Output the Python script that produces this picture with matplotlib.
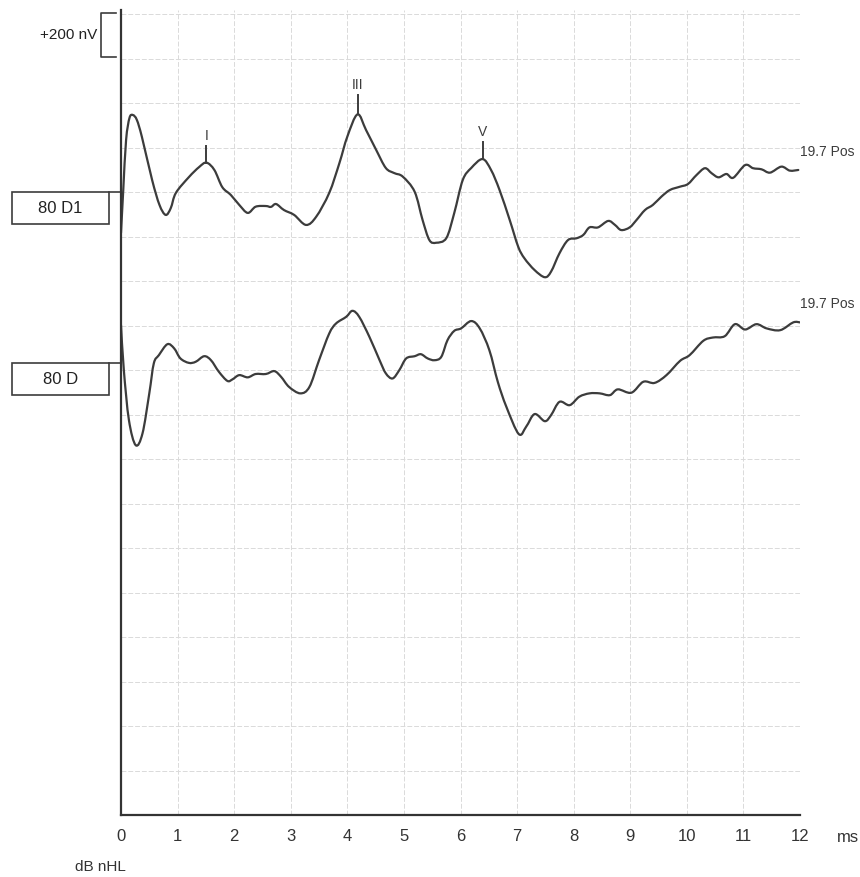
import numpy as np
import matplotlib.pyplot as plt
from matplotlib.patches import Rectangle, PathPatch
from matplotlib.path import Path

plt.rcParams["font.family"] = ["Liberation Sans", "DejaVu Sans"]
plt.rcParams["font.size"] = 11

# ABR waveforms, latency (ms) and amplitude (nV) relative to each trace's baseline
t_d1 = [0.00, 0.04, 0.09, 0.15, 0.21, 0.28, 0.37, 0.55, 0.68, 0.79, 0.88, 0.97,
        1.20, 1.38, 1.51, 1.65, 1.79, 1.94, 2.09, 2.24, 2.38, 2.56, 2.65, 2.74,
        2.88, 3.06, 3.27, 3.45, 3.68, 3.86, 4.00, 4.18, 4.33, 4.51, 4.68, 4.83,
        4.98, 5.19, 5.33, 5.45, 5.57, 5.75, 5.89, 6.04, 6.19, 6.39, 6.54, 6.69,
        6.87, 7.02, 7.13, 7.31, 7.49, 7.60, 7.75, 7.90, 8.05, 8.17, 8.28, 8.43,
        8.61, 8.73, 8.84, 8.99, 9.11, 9.26, 9.40, 9.55, 9.70, 9.88, 10.02, 10.17,
        10.32, 10.44, 10.56, 10.70, 10.82, 11.03, 11.17, 11.32, 11.47, 11.67,
        11.82, 11.97]
amp_d1 = [-184, 9, 234, 333, 346, 324, 247, 54, -58, -103, -72, -4,
          67, 112, 132, 99, 22, -13, -58, -94, -66, -63, -67, -54,
          -81, -103, -148, -111, -4, 130, 249, 349, 279, 189, 108, 85,
          69, 1, -126, -216, -228, -207, -94, 54, 108, 148, 99, 9,
          -126, -246, -298, -351, -383, -358, -275, -216, -208, -193, -159, -159,
          -130, -148, -171, -159, -126, -81, -58, -21, 9, 24, 36, 76,
          107, 84, 66, 81, 64, 121, 107, 102, 87, 114,
          96, 99]

t_d = [0.00, 0.05, 0.14, 0.26, 0.38, 0.50, 0.58, 0.67, 0.82, 0.94, 1.05, 1.20,
       1.32, 1.47, 1.59, 1.73, 1.88, 1.97, 2.09, 2.24, 2.38, 2.56, 2.71, 2.83,
       2.97, 3.17, 3.33, 3.50, 3.68, 3.80, 3.98, 4.09, 4.21, 4.39, 4.57, 4.68,
       4.80, 4.92, 5.04, 5.19, 5.30, 5.42, 5.54, 5.66, 5.77, 5.89, 6.01, 6.19,
       6.34, 6.51, 6.66, 6.81, 7.03, 7.16, 7.31, 7.49, 7.60, 7.75, 7.93, 8.10,
       8.28, 8.46, 8.64, 8.78, 9.02, 9.23, 9.43, 9.64, 9.88, 10.05, 10.29, 10.46,
       10.67, 10.85, 11.03, 11.23, 11.41, 11.65, 11.88, 12.00]
amp_d = [171, -31, -256, -369, -316, -136, -1, 36, 85, 66, 21, 1,
         6, 31, 13, -39, -80, -73, -54, -64, -49, -49, -36, -62,
         -107, -136, -107, 13, 133, 178, 208, 235, 208, 118, 13, -46,
         -69, -31, 21, 31, 40, 21, 13, 28, 103, 145, 156, 189,
         156, 58, -85, -196, -319, -286, -229, -261, -234, -174, -189, -151,
         -136, -136, -144, -118, -133, -84, -89, -54, 10, 36, 100, 115,
         121, 175, 151, 175, 156, 148, 183, 183]

trace_names = ["80 D1", "80 D"]
end_labels = ["19.7 Pos", "19.7 Pos"]
peak_names = ["I", "III", "V"]
peak_times = [1.51, 4.18, 6.39]
peak_amps = [132, 349, 148]
ticks_ms = list(range(13))

NV_PER_DIV = 200
BASE_D1 = 2800
BASE_D = 2031
YTOP = 3618
ink = "#3c3c3c"


def smooth_trace(ax, t, amp, base):
    # draw the sampled points as one smooth bezier path (Catmull-Rom style handles)
    pts = np.column_stack([t, np.array(amp, dtype=float) + base])
    verts = [pts[0]]
    codes = [Path.MOVETO]
    for i in range(len(pts) - 1):
        p0 = pts[max(i - 1, 0)]
        p1, p2 = pts[i], pts[i + 1]
        p3 = pts[min(i + 2, len(pts) - 1)]
        verts += [p1 + (p2 - p0) / 6, p2 - (p3 - p1) / 6, p2]
        codes += [Path.CURVE4] * 3
    ax.add_patch(PathPatch(Path(verts, codes), fill=False, ec=ink, lw=1.6,
                           joinstyle="round", capstyle="round"))


fig = plt.figure(figsize=(8.6, 8.77), dpi=100)
ax = fig.add_axes([121 / 860, 1 - 815 / 877, 679 / 860, 805 / 877])
ax.set_xlim(0, 12)
ax.set_ylim(0, YTOP)

# faint chart-paper grid
for x in range(1, 13):
    ax.axvline(x, color="#dadada", lw=0.7, ls=(0, (5, 2)), zorder=0)
for y in range(NV_PER_DIV, YTOP, NV_PER_DIV):
    ax.axhline(y, color="#dadada", lw=0.7, ls=(0, (5, 2)), zorder=0)

smooth_trace(ax, t_d1, amp_d1, BASE_D1)
smooth_trace(ax, t_d, amp_d, BASE_D)

# peak markers on the upper trace
px_nv = YTOP / 805
for name, t, a in zip(peak_names, peak_times, peak_amps):
    y0 = BASE_D1 + a
    tick_len = (19 if name == "III" else 17) * px_nv
    ax.plot([t, t], [y0, y0 + tick_len], color=ink, lw=1.4)
    ax.text(t, y0 + tick_len + 3 * px_nv, name, ha="center", va="bottom",
            fontsize=10, color=ink)

# level boxes with connector to the axis
for name, base in zip(trace_names, [BASE_D1, BASE_D]):
    bh = 32 * px_nv
    ax.add_patch(Rectangle((-1.93, base - bh), 1.717, bh, fill=False, ec=ink,
                           lw=1.2, transform=ax.transData, clip_on=False))
    ax.plot([-0.213, 0], [base, base], color=ink, lw=1.2, clip_on=False)
    ax.text(-1.93 + 1.717 / 2, base - bh / 2, name, ha="center", va="center",
            fontsize=12, color="#222222")

# end labels
for lab, tr_amp, base in zip(end_labels, [amp_d1, amp_d], [BASE_D1, BASE_D]):
    ax.text(12.0, base + tr_amp[-1] + 18 * px_nv, lab, ha="left", va="center",
            fontsize=10, color=ink, clip_on=False)

# +200 nV calibration bracket
top = YTOP - 3 * px_nv
bx0, bx1 = -0.354, -0.088
ax.plot([bx1, bx0, bx0, bx1], [top, top, top - NV_PER_DIV, top - NV_PER_DIV],
        color=ink, lw=1.2, clip_on=False)
ax.text(-0.42, top - NV_PER_DIV / 2, "+200 nV", ha="right", va="center",
        fontsize=11, color="#222222")

for side in ["top", "right"]:
    ax.spines[side].set_visible(False)
for side in ["left", "bottom"]:
    ax.spines[side].set_color("#333333")
    ax.spines[side].set_linewidth(1.6)
ax.set_yticks([])
ax.set_xticks(ticks_ms)
ax.set_xticklabels([str(v) for v in ticks_ms], fontsize=12, color="#333333")
ax.tick_params(axis="x", length=0, pad=10)
ax.text(12.85, -22 * px_nv, "ms", ha="center", va="center", fontsize=12,
        color="#333333", clip_on=False)
ax.text(-0.37, -52 * px_nv, "dB nHL", ha="center", va="center", fontsize=11,
        color="#333333", clip_on=False)

fig.savefig("out.png", dpi=100)
